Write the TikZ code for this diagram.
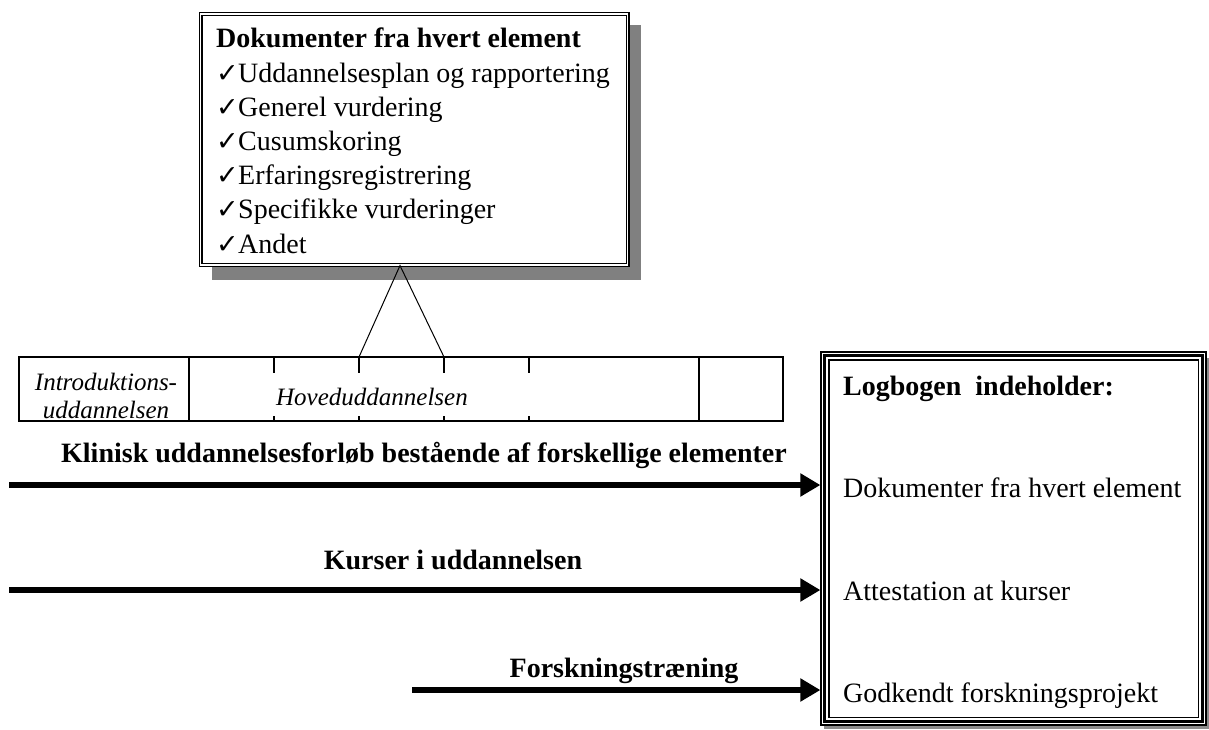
\documentclass[tikz,border=0pt]{standalone}
\usepackage{fontspec}
\setmainfont{Liberation Serif}
\newfontfamily\symf{DejaVu Sans}
\usetikzlibrary{arrows.meta}
\newcommand{\ckm}{\makebox[22pt][l]{\symf\fontsize{27}{34}\selectfont ✓}}
\begin{document}
\begin{tikzpicture}[x=1pt,y=-1pt,
  txt/.style={inner sep=0pt, anchor=base west, font=\fontsize{28}{34}\selectfont},
  btxt/.style={inner sep=0pt, anchor=base west, font=\fontsize{28}{34}\selectfont\bfseries},
  bctxt/.style={inner sep=0pt, anchor=base, font=\fontsize{28}{34}\selectfont\bfseries},
  itxt/.style={inner sep=0pt, anchor=base, font=\fontsize{25}{28}\selectfont\itshape},
  bigarrow/.style={line width=6pt, -{Triangle[length=20pt,width=22pt]}},
  thinl/.style={line width=1.5pt},
  docbox/.style={draw, fill=white, line width=1.1pt, double, double distance=1.8pt, inner sep=0pt},
  logbox/.style={draw, fill=white, line width=1.2pt, inner sep=0pt},
]
\useasboundingbox (0,0) rectangle (1209,729);

% top box with shadow
\fill[black!50] (212,25) rectangle (641,280);
\node[docbox, minimum width=427pt, minimum height=251pt] (docs) at (414,139.5) {};
\node[btxt] (dt) at (216,47) {Dokumenter fra hvert element};
\node[txt] (d1) at (216,82) {\ckm Uddannelsesplan og rapportering};
\node[txt] (d2) at (216,116) {\ckm Generel vurdering};
\node[txt] (d3) at (216,150) {\ckm Cusumskoring};
\node[txt] (d4) at (216,184) {\ckm Erfaringsregistrering};
\node[txt] (d5) at (216,218) {\ckm Specifikke vurderinger};
\node[txt] (d6) at (216,253) {\ckm Andet};

% timeline bar
\node[draw, thinl, minimum width=764pt, minimum height=64pt, inner sep=0pt] (bar) at (401,389) {};
\draw[thinl] (189,357) -- (189,421);
\draw[thinl] (699,357) -- (699,421);
\foreach \x in {274,359,444,529} {
  \draw[line width=2pt] (\x,357) -- (\x,373);
  \draw[line width=2pt] (\x,416) -- (\x,421);
}
\coordinate (apex) at ([xshift=-14pt]docs.south);
\coordinate (t2) at (359,357);
\coordinate (t3) at (444,357);
\draw[line width=1pt] (t2) -- (apex) -- (t3);
\node[itxt] (intro1) at (106,390) {Introduktions-};
\node[itxt] (intro2) at (106,418) {uddannelsen};
\node[itxt] (hoved) at (372,405) {Hoveduddannelsen};

% right box
\fill[black!45] (824,358) rectangle (1209,729);
\node[logbox, minimum width=385pt, minimum height=373pt] (log) at (1013.5,538.5) {};
\draw[line width=3pt] ([shift={(4.5,4.5)}]log.north west) rectangle ([shift={(-4.5,-4.5)}]log.south east);
\draw[line width=1.2pt] ([shift={(8.5,8.5)}]log.north west) rectangle ([shift={(-8.5,-8.5)}]log.south east);
\node[btxt] (lh) at (843,395) {Logbogen\ \ indeholder:};
\node[txt] (l1) at (843,497) {Dokumenter fra hvert element};
\node[txt] (l2) at (843,600) {Attestation at kurser};
\node[txt] (l3) at (843,702) {Godkendt forskningsprojekt};

% arrows
\node[bctxt] (k1) at (424,462) {Klinisk uddannelsesforløb bestående af forskellige elementer};
\node[bctxt] (k2) at (453,569) {Kurser i uddannelsen};
\node[bctxt] (k3) at (624,677) {Forskningstræning};
\coordinate (s1) at (9,485);
\coordinate (s2) at (9,590);
\coordinate (s3) at (412,690);
\draw[bigarrow] (s1) -- (s1 -| log.west);
\draw[bigarrow] (s2) -- (s2 -| log.west);
\draw[bigarrow] (s3) -- (s3 -| log.west);
\end{tikzpicture}
\end{document}
